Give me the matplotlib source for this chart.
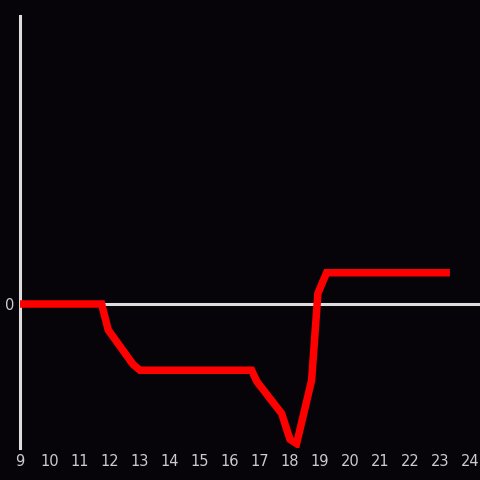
import matplotlib.pyplot as plt

# hour of day vs. value
hours = [9.0, 11.72, 11.94, 12.77, 13.0, 16.72, 16.9, 17.72, 18.0, 18.22,
         18.72, 18.93, 19.22, 23.33]
values = [0.0, 0.0, -0.18, -0.42, -0.46, -0.46, -0.54, -0.76, -0.94, -0.97,
          -0.53, 0.074, 0.217, 0.217]
xticks = list(range(9, 25))

BG = '#060409'
AXIS = '#dddddd'

fig = plt.figure(figsize=(4.8, 4.8), dpi=100, facecolor=BG)
ax = fig.add_axes([20 / 480, 32 / 480, 460 / 480, 432 / 480], facecolor=BG)

ax.axhline(0, color=AXIS, linewidth=2.2, zorder=1)
ax.plot(hours, values, color='#ff0000', linewidth=5.4,
        solid_joinstyle='miter', solid_capstyle='butt', zorder=3)

ax.set_xlim(9, 9 + 460 / 30)
ax.set_ylim(-1, 2)
ax.set_xticks(xticks)
ax.set_yticks([0])
ax.tick_params(length=0, colors='#cccccc', labelsize=10.5)
ax.tick_params(axis='x', pad=4.5)
ax.tick_params(axis='y', pad=4)

for side in ['top', 'right', 'bottom']:
    ax.spines[side].set_visible(False)
ax.spines['left'].set_color(AXIS)
ax.spines['left'].set_linewidth(2.2)

fig.savefig('out.png', dpi=100, facecolor=BG)
